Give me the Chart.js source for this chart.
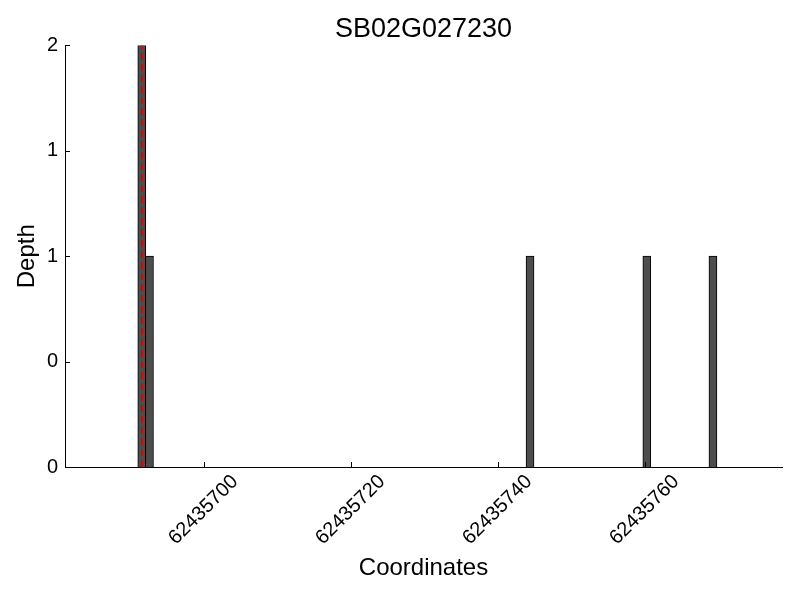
<!DOCTYPE html>
<html>
<head>
<meta charset="UTF-8">
<title>SB02G027230</title>
<style>
  body { margin: 0; background: #ffffff; }
  #wrap { width: 800px; height: 600px; }
</style>
</head>
<body>
<div id="wrap"><canvas id="depthChart" width="800" height="600"></canvas></div>
<script src="https://cdn.jsdelivr.net/npm/chart.js"></script>
<script>
// data
const coords = [62435691.55, 62435692.6, 62435744.4, 62435760.3, 62435769.3];
const depths = [2, 1, 1, 1, 1];
const markerCoord = 62435691.55;
const markerDepth = [0, 2];
const xTicks = [62435700, 62435720, 62435740, 62435760];
const yTicks = [0, 0.5, 1, 1.5, 2];

const FONT = "'Liberation Sans', Arial, sans-serif";

// matplotlib-like inward ticks and centred rotated x labels
const tickPlugin = {
  id: 'tickPlugin',
  afterDraw(chart) {
    const ctx = chart.ctx;
    const area = chart.chartArea;
    const xs = chart.scales.x;
    const ys = chart.scales.y;
    ctx.save();
    ctx.strokeStyle = '#000';
    ctx.lineWidth = 1;
    yTicks.forEach(v => {
      const y = Math.round(ys.getPixelForValue(v)) + 0.5;
      ctx.beginPath();
      ctx.moveTo(area.left, y);
      ctx.lineTo(area.left + 5, y);
      ctx.stroke();
    });
    ctx.fillStyle = '#000';
    ctx.font = '20px ' + FONT;
    ctx.textAlign = 'center';
    ctx.textBaseline = 'middle';
    xTicks.forEach(v => {
      const x = Math.round(xs.getPixelForValue(v)) + 0.5;
      ctx.beginPath();
      ctx.moveTo(x, area.bottom);
      ctx.lineTo(x, area.bottom - 5);
      ctx.stroke();
      ctx.save();
      ctx.translate(x - 1, area.bottom + 43);
      ctx.rotate(-Math.PI / 4);
      ctx.fillText(String(v), 0, 0);
      ctx.restore();
    });
    ctx.restore();
  }
};

const ctx = document.getElementById('depthChart').getContext('2d');
new Chart(ctx, {
  type: 'bar',
  data: {
    datasets: [
      {
        type: 'line',
        data: markerDepth.map(d => ({ x: markerCoord, y: d })),
        borderColor: '#e00000',
        borderWidth: 2,
        borderDash: [7, 4],
        pointRadius: 0,
        order: 0
      },
      {
        type: 'bar',
        data: coords.map((c, i) => ({ x: c, y: depths[i] })),
        backgroundColor: '#4d4d4d',
        borderColor: '#000000',
        borderWidth: 1,
        barThickness: 8,
        order: 1
      }
    ]
  },
  options: {
    responsive: false,
    animation: false,
    layout: { padding: { left: 0, right: 18, top: 0, bottom: 0 } },
    plugins: {
      legend: { display: false },
      tooltip: { enabled: false },
      title: {
        display: true,
        text: 'SB02G027230',
        fullSize: false,
        color: '#000',
        font: { family: FONT, size: 27, weight: 'normal' },
        padding: { top: 13, bottom: 0 }
      }
    },
    scales: {
      x: {
        type: 'linear',
        min: 62435681.1,
        max: 62435778.7,
        offset: false,
        grid: { display: false },
        border: { display: true, color: '#000', width: 1 },
        ticks: { display: false, stepSize: 20 },
        title: {
          display: true,
          text: 'Coordinates',
          color: '#000',
          font: { family: FONT, size: 24 },
          padding: { top: 0, bottom: 17.6 }
        },
        afterFit(scale) { scale.height = 133; }
      },
      y: {
        min: 0,
        max: 2,
        grid: { display: false, drawTicks: false },
        border: { display: true, color: '#000', width: 1 },
        ticks: {
          stepSize: 0.5,
          padding: 7,
          color: '#000',
          font: { family: FONT, size: 20 },
          callback: v => Math.floor(v)
        },
        title: {
          display: true,
          text: 'Depth',
          color: '#000',
          font: { family: FONT, size: 24 },
          padding: { top: 12.6, bottom: 0 }
        },
        afterFit(scale) { scale.width = 65; }
      }
    }
  },
  plugins: [tickPlugin]
});
</script>
</body>
</html>
